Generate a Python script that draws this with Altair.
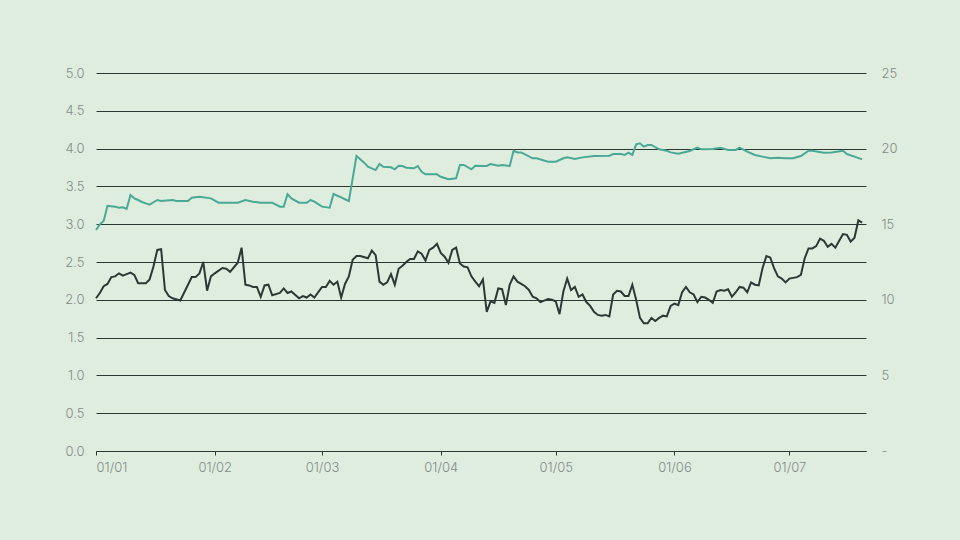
import altair as alt
import pandas as pd

# day offsets from 1 January (2023) and values
dark_days = [0, 1, 2, 3, 4, 5, 6, 7, 8, 9, 10, 11, 13, 14, 15, 16, 17, 18, 19, 20, 22,
             25, 26, 27, 28, 29, 30, 31, 33, 34, 35, 37, 38, 39, 40, 41, 42, 43, 44, 45, 46,
             48, 49, 50, 51, 53, 54, 55, 56, 57, 59, 60, 61, 62, 63, 64, 65, 66, 67, 68, 69,
             71, 72, 73, 74, 75, 76, 77, 78, 79, 80, 81, 82, 83, 84, 85, 86, 87, 88, 89, 90,
             91, 92, 93, 94, 95, 96, 97, 98, 99, 100, 101, 102, 103, 104, 105, 106, 107, 108,
             109, 110, 111, 112, 113, 114, 115, 116, 117, 118, 119, 120, 121, 122, 123, 124,
             125, 126, 127, 128, 129, 130, 131, 132, 133, 134, 135, 136, 137, 138, 139, 140,
             141, 142, 143, 144, 145, 146, 147, 148, 149, 150, 151, 152, 153, 154, 155, 156,
             157, 158, 159, 160, 161, 162, 163, 164, 165, 166, 167, 168, 169, 170, 171, 172,
             173, 174, 175, 176, 177, 178, 179, 180, 181, 182, 183, 184, 185, 186, 187, 188,
             189, 190, 191, 192, 193, 194, 195, 196, 197, 198, 199, 200]
dark_values = [2.02, 2.09, 2.18, 2.21, 2.30, 2.31, 2.35, 2.32, 2.34, 2.36, 2.33, 2.22, 2.22,
               2.27, 2.44, 2.66, 2.67, 2.13, 2.05, 2.02, 1.99,
               2.30, 2.30, 2.35, 2.50, 2.12, 2.31, 2.35, 2.42, 2.41, 2.37, 2.49, 2.69, 2.20,
               2.19, 2.17, 2.17, 2.04, 2.19, 2.20, 2.06,
               2.09, 2.15, 2.09, 2.11, 2.02, 2.05, 2.03, 2.07, 2.03, 2.17, 2.17, 2.25, 2.20,
               2.24, 2.03, 2.21, 2.31, 2.53, 2.58, 2.58,
               2.55, 2.65, 2.59, 2.24, 2.20, 2.23, 2.34, 2.20, 2.41, 2.45, 2.50, 2.54, 2.54,
               2.64, 2.61, 2.52, 2.66, 2.69, 2.74, 2.62,
               2.57, 2.49, 2.66, 2.69, 2.48, 2.44, 2.43, 2.31, 2.24, 2.18, 2.27, 1.84, 1.98,
               1.96, 2.15, 2.14, 1.93, 2.20,
               2.31, 2.24, 2.21, 2.18, 2.13, 2.04, 2.02, 1.97, 1.99, 2.01, 2.00, 1.98, 1.81,
               2.11, 2.28, 2.13,
               2.17, 2.04, 2.07, 1.97, 1.92, 1.84, 1.80, 1.79, 1.80, 1.78, 2.07, 2.12, 2.11,
               2.05, 2.05, 2.20,
               2.00, 1.76, 1.69, 1.69, 1.76, 1.72, 1.76, 1.79, 1.78, 1.92, 1.95, 1.93, 2.10,
               2.17, 2.10, 2.07,
               1.97, 2.04, 2.03, 2.00, 1.96, 2.11, 2.13, 2.12, 2.14, 2.04, 2.10, 2.17, 2.16,
               2.10, 2.23, 2.20,
               2.19, 2.42, 2.58, 2.56, 2.42, 2.31, 2.28, 2.23, 2.28, 2.29, 2.30, 2.33, 2.55,
               2.68, 2.68, 2.71,
               2.81, 2.78, 2.70, 2.74, 2.69, 2.78, 2.87, 2.86, 2.77, 2.82, 3.05, 3.02]

teal_days = [0, 1, 2, 3, 5, 6, 7, 8, 9, 10, 11, 12, 13, 14, 16, 17, 20, 21, 24, 25, 27, 30,
             32, 37, 39, 41, 43, 46, 48, 49, 50, 51, 53, 55, 56, 57, 59, 61, 62, 64, 65, 66,
             68, 70, 71, 73, 74, 75, 77, 78, 79, 80, 81, 83, 84, 85, 86, 89, 90, 92, 94, 95,
             96, 98, 99, 101, 102, 103, 105, 106, 108, 109, 110, 111, 112, 114, 115, 118, 120,
             122, 123, 125, 127, 130, 134, 135, 137, 138, 139, 140, 141, 142, 143, 144, 145,
             146, 147, 149, 150, 152, 155, 157, 158, 161, 163, 165, 167, 168, 170, 172, 174,
             176, 178, 180, 182, 184, 186, 187, 190, 192, 195, 196, 198, 200]
teal_values = [14.62, 14.99, 15.21, 16.22, 16.16, 16.09, 16.12, 16.01, 16.93, 16.71, 16.60,
               16.47, 16.38, 16.29, 16.60, 16.53, 16.60, 16.53, 16.53, 16.75, 16.82, 16.71,
               16.42, 16.42, 16.60, 16.49, 16.42, 16.42, 16.16, 16.16, 16.98, 16.71, 16.42,
               16.42, 16.60, 16.49, 16.16, 16.09, 17.00, 16.78, 16.65, 16.53,
               19.51, 19.07, 18.80, 18.58, 18.98, 18.80, 18.76, 18.63, 18.87, 18.85, 18.74,
               18.70, 18.85, 18.47, 18.30, 18.30, 18.14, 17.97, 18.04, 18.92,
               18.92, 18.63, 18.87, 18.85, 18.85, 18.98, 18.87, 18.92, 18.85, 19.86, 19.75,
               19.75, 19.62, 19.36, 19.36, 19.13, 19.13,
               19.36, 19.42, 19.31, 19.42, 19.51, 19.53, 19.64, 19.64, 19.58, 19.73, 19.58,
               20.28, 20.35, 20.13, 20.24, 20.24,
               20.09, 19.95, 19.86, 19.75, 19.66, 19.84, 20.06, 19.95, 19.97, 20.06, 19.91,
               19.91, 20.06, 19.80, 19.58, 19.47,
               19.36, 19.40, 19.36, 19.36, 19.51, 19.86, 19.86, 19.73, 19.75, 19.86, 19.64,
               19.47, 19.29]

start = pd.Timestamp("2023-01-01")
dark_df = pd.DataFrame({
    "date": [(start + pd.Timedelta(days=d)).strftime("%Y-%m-%d") for d in dark_days],
    "value": dark_values,
})
teal_df = pd.DataFrame({
    "date": [(start + pd.Timedelta(days=d)).strftime("%Y-%m-%d") for d in teal_days],
    "value": teal_values,
})

FONT = "Inter"
LABEL = "#838b89"
DARK = "#2b3934"
TEAL = "#4aa996"
BG = "#dfeddf"

# give the whole page the chart's background colour (the standard page template
# is kept, with one extra CSS rule)
try:
    import altair.utils.html as _althtml

    _base_template = _althtml.TEMPLATES["standard"]

    class _PageTemplate:
        def render(self, **kw):
            html = _base_template.render(**kw)
            rule = "<style>\n    html, body { background: %s; }\n" % BG
            return html.replace("<style>", rule, 1)

    _althtml.TEMPLATES["standard"] = _PageTemplate()
except Exception:
    pass

x_enc = alt.X(
    "date:T",
    title=None,
    scale=alt.Scale(domain=[alt.DateTime(year=2023, month=1, date=1),
                            alt.DateTime(year=2023, month=7, date=21)]),
    axis=alt.Axis(format="%d/%m", tickCount={"interval": "month", "step": 1},
                  grid=False, domain=True, domainColor=DARK, domainWidth=1,
                  ticks=True, tickColor=DARK, tickSize=4, labelPadding=6,
                  labelColor=LABEL, labelFont=FONT, labelFontSize=13,
                  labelFontWeight=300),
)

dark_line = alt.Chart(dark_df).mark_line(color=DARK, strokeWidth=2).encode(
    x=x_enc,
    y=alt.Y("value:Q", title=None,
            scale=alt.Scale(domain=[0, 5], nice=False),
            axis=alt.Axis(orient="left", values=[0, 0.5, 1, 1.5, 2, 2.5, 3, 3.5, 4, 4.5, 5],
                          format=".1f", grid=True, gridColor=DARK, gridWidth=1,
                          gridOpacity=1, domain=False, ticks=False, labelPadding=12,
                          labelColor=LABEL, labelFont=FONT, labelFontSize=13,
                          labelFontWeight=300)),
)

teal_line = alt.Chart(teal_df).mark_line(color=TEAL, strokeWidth=2).encode(
    x=x_enc,
    y=alt.Y("value:Q", title=None,
            scale=alt.Scale(domain=[0, 25], nice=False),
            axis=alt.Axis(orient="right", values=[0, 5, 10, 15, 20, 25],
                          labelExpr="datum.value == 0 ? '-' : datum.label",
                          grid=False, domain=False, ticks=False, labelPadding=15,
                          labelColor=LABEL, labelFont=FONT, labelFontSize=13,
                          labelFontWeight=300)),
)

chart = alt.layer(teal_line, dark_line).resolve_scale(y="independent").properties(
    width=770,
    height=378,
    autosize=alt.AutoSizeParams(type="none"),
    padding={"left": 88, "top": 65, "right": 86, "bottom": 60},
    background=BG,
).configure_view(stroke=None)

chart.save("out.html", embed_options={"renderer": "svg", "actions": False})
